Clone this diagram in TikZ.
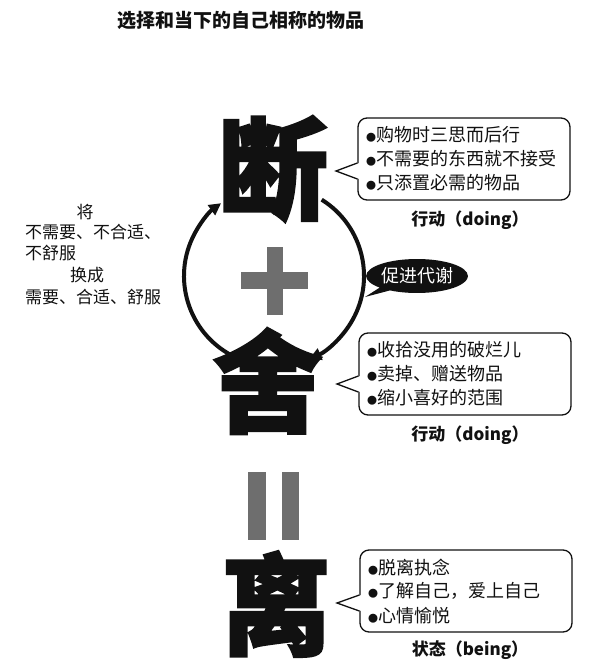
\documentclass[tikz,border=0pt]{standalone}
\usepackage{fontspec}
\usepackage{tikz}
\usetikzlibrary{calc,arrows.meta,shapes.geometric,shapes.callouts}
\newfontfamily\cjk{Noto Sans CJK SC}
\newfontfamily\cjkheavy[BoldFeatures={FakeBold=2}]{Noto Sans CJK SC}
\newcommand\pip{{\fontsize{10}{10}\selectfont ●}}
\definecolor{ink}{HTML}{111111}
\definecolor{shade}{HTML}{6E6E6E}
\tikzset{
  big/.style={text=ink, inner sep=0pt, font=\cjkheavy\bfseries\fontsize{110}{110}\selectfont},
  hatch/.style={fill=shade},
  cyc/.style={draw=ink, line width=4pt, -{Triangle[length=12pt,width=12pt]}},
  bubble/.style={draw=ink, line width=1.3pt, rounded corners=9pt, fill=white, text width=196pt,
    inner xsep=8pt, minimum height=82pt, align=left, text=ink, font=\cjk\fontsize{18}{24}\selectfont},
  tail/.style={draw=ink, line width=1.3pt, line join=miter},
  tag/.style={text=ink, font=\cjk\bfseries\fontsize{17}{20}\selectfont},
  note/.style={anchor=west, inner sep=0pt, text=ink, font=\cjk\fontsize{17}{20}\selectfont},
}

\begin{document}
\begin{tikzpicture}[x=1pt,y=-1pt]
  \useasboundingbox (0,0) rectangle (596,660);
  \node[tag, font=\cjk\bfseries\fontsize{19}{22}\selectfont] (title) at (241,20) {选择和当下的自己相称的物品};

  % the three characters
  \node[big] (cut) at (273,169) {断};
  \node[big] (toss) at (268,381) {舍};
  \node[big] (leave) at (276,604) {离};
  \fill[hatch] (267,247) rectangle (283,315);
  \fill[hatch] (241,272) rectangle (308,289);
  \fill[hatch] (248,472) rectangle (266,540);
  \fill[hatch] (282,472) rectangle (299,540);

  % cycle round the plus
  \coordinate (hub) at (274,276);
  \draw[cyc] ($(hub)+(115:90)$) arc[start angle=115, end angle=234, radius=90];
  \draw[cyc] ($(hub)+(-58:90)$) arc[start angle=-58, end angle=67, radius=90];
  \node[ellipse callout, fill=ink, text=white, minimum width=100pt, minimum height=34pt, inner sep=0pt,
    callout absolute pointer={(365,297)}, font=\cjk\fontsize{18}{20}\selectfont] (meta) at (417,276) {促进代谢};

  % left note
  \node[note, anchor=center] (will) at (85,212) {将};
  \node[note] (bad) at (25,232) {不需要、不合适、};
  \node[note] (bad2) at (25,253) {不舒服};
  \node[note, anchor=center] (into) at (87,275) {换成};
  \node[note] (good) at (25,297) {需要、合适、舒服};

  % bubbles
  \node[bubble] (act1) at (464,159) {\pip 购物时三思而后行\\\pip 不需要的东西就不接受\\\pip 只添置必需的物品};
  \node[bubble] (act2) at (465,374) {\pip 收拾没用的破烂儿\\\pip 卖掉、赠送物品\\\pip 缩小喜好的范围};
  \node[bubble] (state) at (466,591) {\pip 脱离执念\\\pip 了解自己，爱上自己\\\pip 心情愉悦};
  \coordinate (tip1) at (336,171);
  \coordinate (tip2) at (337,384);
  \coordinate (tip3) at (337,603);
  \foreach \b/\t in {act1/tip1,act2/tip2,state/tip3}{
    \fill[white] ($(\b.west |- \t)+(2,-8)$) -- (\t) -- ($(\b.west |- \t)+(2,8)$) -- cycle;
    \draw[tail] ($(\b.west |- \t)+(0,-8)$) -- (\t) -- ($(\b.west |- \t)+(0,8)$);
  }
  \node[tag] (doing1) at (470,220) {行动（doing）};
  \node[tag] (doing2) at (470,435) {行动（doing）};
  \node[tag] (being) at (470,650) {状态（being）};
\end{tikzpicture}
\end{document}
